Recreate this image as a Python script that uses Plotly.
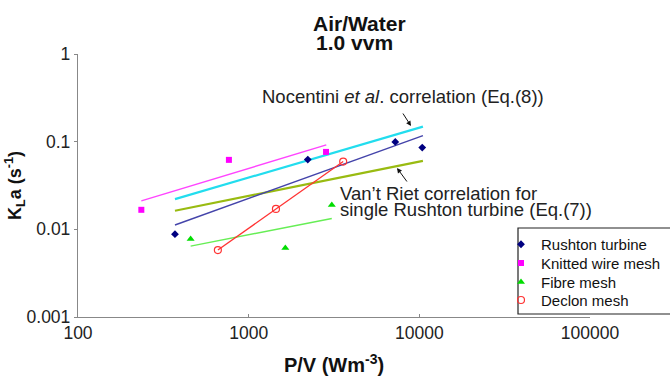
import plotly.graph_objects as go

# ---------------- data ----------------
rushton_pv = [370, 2220, 7230, 10400]
rushton_kla = [0.0088, 0.0625, 0.0994, 0.0856]
rushton_fit_pv = [370, 10500]
rushton_fit_kla = [0.0112, 0.117]

knitted_pv = [235, 766, 2840]
knitted_kla = [0.0167, 0.0620, 0.0764]
knitted_fit_pv = [235, 2850]
knitted_fit_kla = [0.0211, 0.0919]

fibre_pv = [457, 1640, 3070]
fibre_kla = [0.00774, 0.00611, 0.0189]
fibre_fit_pv = [457, 3070]
fibre_fit_kla = [0.00644, 0.0133]

declon_pv = [660, 1445, 3580]
declon_kla = [0.0058, 0.0171, 0.0593]

nocentini_pv = [370, 10500]
nocentini_kla = [0.0221, 0.1485]

vantriet_pv = [370, 10500]
vantriet_kla = [0.0163, 0.0604]

x_ticks = [100, 1000, 10000, 100000]
y_ticks = [0.001, 0.01, 0.1, 1]
y_ticktext = ["0.001", "0.01", "0.1", "1"]

# ---------------- layout geometry ----------------
W, H = 670, 376
L, R, T, B = 78, 80, 54, 59
PW, PH = W - L - R, H - T - B
FONT = "Liberation Sans, Arial, sans-serif"


def px(x):
    return (x - L) / PW


def py(y):
    return (H - B - y) / PH


fig = go.Figure()

# fitted / correlation lines
line_specs = [
    (knitted_fit_pv, knitted_fit_kla, "#FF44FF", 1.4),
    (nocentini_pv, nocentini_kla, "#22DDEE", 2.2),
    (vantriet_pv, vantriet_kla, "#99BB11", 2.2),
    (rushton_fit_pv, rushton_fit_kla, "#4444AA", 1.4),
    (fibre_fit_pv, fibre_fit_kla, "#66EE55", 1.4),
]
for xs, ys, col, w in line_specs:
    fig.add_trace(go.Scatter(x=xs, y=ys, mode="lines", line=dict(color=col, width=w),
                             showlegend=False, hoverinfo="skip"))

# Declon connecting line
fig.add_trace(go.Scatter(x=declon_pv, y=declon_kla, mode="lines",
                         line=dict(color="#FF3333", width=1.3), showlegend=False,
                         hoverinfo="skip"))

# data series (each in its own legend so rows can be spaced like the original)
series = [
    ("Rushton turbine", rushton_pv, rushton_kla,
     dict(symbol="diamond", size=6, color="#000080"), "legend"),
    ("Knitted wire mesh", knitted_pv, knitted_kla,
     dict(symbol="square", size=6, color="#FF00FF"), "legend2"),
    ("Fibre mesh", fibre_pv, fibre_kla,
     dict(symbol="triangle-up", size=7, color="#00DD00"), "legend3"),
    ("Declon mesh", declon_pv, declon_kla,
     dict(symbol="circle-open", size=7, color="#FF3333", line=dict(width=1.2)), "legend4"),
]
for name, xs, ys, mk, lg in series:
    fig.add_trace(go.Scatter(x=xs, y=ys, mode="markers", name=name, marker=mk, legend=lg))

axis_common = dict(
    type="log", showgrid=False, zeroline=False, showline=True,
    linecolor="#888888", linewidth=1.3, tickcolor="#888888", ticklen=3,
    tickfont=dict(family=FONT, size=17.5, color="#222222"), automargin=False,
)

legend_tops = [228, 246.75, 265.75, 283.75]
legend_common = dict(x=px(501), xanchor="left", yanchor="top",
                     bgcolor="rgba(0,0,0,0)", borderwidth=0,
                     font=dict(family=FONT, size=15, color="#111111"))

fig.update_layout(
    width=W, height=H,
    margin=dict(l=L, r=R, t=T, b=B, autoexpand=False),
    paper_bgcolor="white", plot_bgcolor="white",
    font=dict(family=FONT, color="#222222"),
    xaxis=dict(axis_common, range=[2, 5], tickvals=x_ticks,
               ticktext=[str(v) for v in x_ticks], ticks="inside",
               title=dict(text="<b>P/V (Wm<sup>-3</sup>)</b>",
                          font=dict(family=FONT, size=20, color="#111111"), standoff=19)),
    yaxis=dict(axis_common, range=[-3, 0], tickvals=y_ticks,
               ticktext=y_ticktext, ticks="outside",
               title=dict(text="<b>K<sub>L</sub>a (s<sup>-1</sup>)</b>",
                          font=dict(family=FONT, size=18, color="#111111"), standoff=0)),
    legend=dict(legend_common, y=py(legend_tops[0])),
    legend2=dict(legend_common, y=py(legend_tops[1])),
    legend3=dict(legend_common, y=py(legend_tops[2])),
    legend4=dict(legend_common, y=py(legend_tops[3])),
    showlegend=True,
)

# legend frame
fig.add_shape(type="rect", xref="paper", yref="paper",
              x0=px(518), x1=px(676), y0=py(314), y1=py(228),
              line=dict(color="#222222", width=1.2), fillcolor="rgba(0,0,0,0)")

ann = []
# title
ann.append(dict(text="<b>Air/Water</b>", x=px(359), y=py(24), xanchor="center", yanchor="middle",
                font=dict(family=FONT, size=21, color="#111111")))
ann.append(dict(text="<b>1.0 vvm</b>", x=px(354), y=py(43), xanchor="center", yanchor="middle",
                font=dict(family=FONT, size=21, color="#111111")))
# correlation labels
lab_font = dict(family=FONT, size=18.5, color="#222222")
ann.append(dict(text="Nocentini <i>et al</i>. correlation (Eq.(8))", x=px(260), y=py(96),
                xanchor="left", yanchor="middle", font=lab_font))
ann.append(dict(text="Van\u2019t Riet correlation for", x=px(338), y=py(193.5),
                xanchor="left", yanchor="middle", font=lab_font))
ann.append(dict(text="single Rushton turbine (Eq.(7))", x=px(338), y=py(209),
                xanchor="left", yanchor="middle", font=lab_font))
for a in ann:
    a.update(xref="paper", yref="paper", showarrow=False)

# arrows
arrows = [((411, 126), (402, 112)), ((397, 168), (408, 183))]
for (hx, hy), (tx, ty) in arrows:
    ann.append(dict(text="", x=px(hx), y=py(hy), xref="paper", yref="paper", showarrow=True,
                    ax=tx - hx, ay=ty - hy, arrowhead=2, arrowsize=1, arrowwidth=1,
                    arrowcolor="#111111", standoff=0, startstandoff=0))

fig.update_layout(annotations=ann)

fig.write_html("out.html")
